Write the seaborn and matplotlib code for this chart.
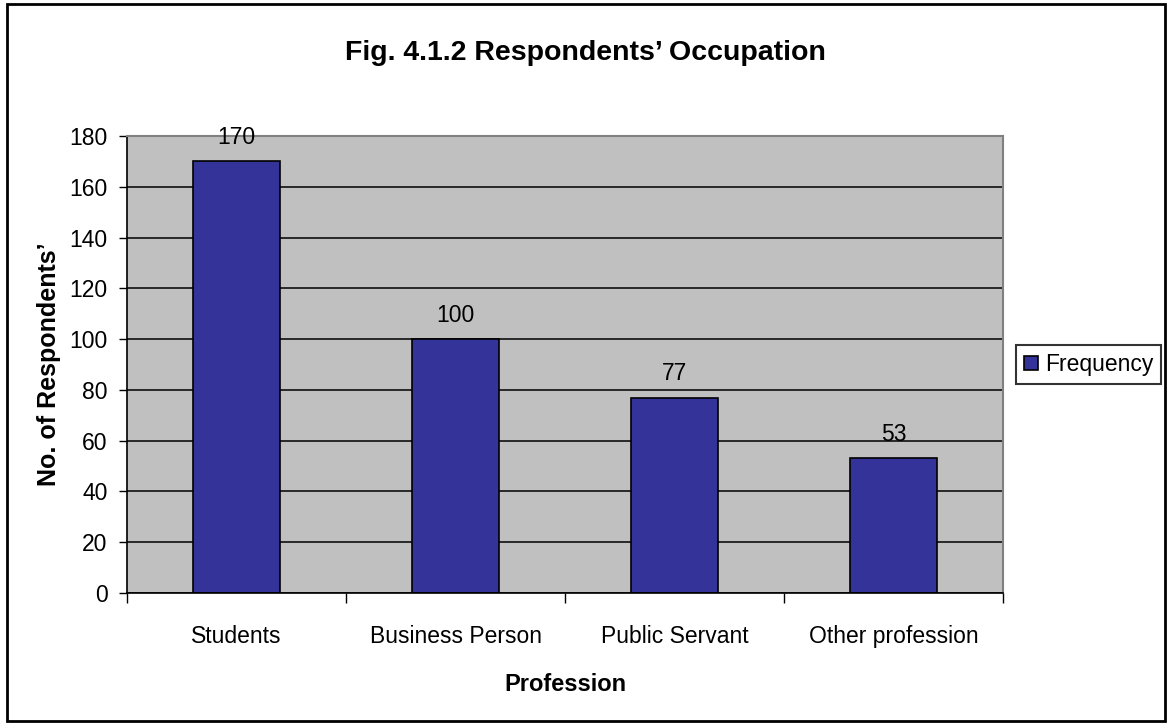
import numpy as np
import pandas as pd
import matplotlib
matplotlib.use("Agg")
import matplotlib.pyplot as plt
from matplotlib.patches import Rectangle
import seaborn as sns

# data
professions = ["Students", "Business Person", "Public Servant", "Other profession"]
frequency = [170, 100, 77, 53]
y_ticks = [0, 20, 40, 60, 80, 100, 120, 140, 160, 180]

df = pd.DataFrame({"Profession": professions, "Frequency": frequency})

sns.set_theme(style="white")
plt.rcParams["font.family"] = ["Liberation Sans", "DejaVu Sans"]
plt.rcParams["text.color"] = "black"
plt.rcParams["axes.labelcolor"] = "black"
plt.rcParams["xtick.color"] = "black"
plt.rcParams["ytick.color"] = "black"

fig = plt.figure(figsize=(11.71, 7.27), dpi=100)
ax = fig.add_axes([0.1085, 0.1843, 0.748, 0.6286])
ax.set_facecolor("#C0C0C0")

# gridlines behind the bars
ax.set_axisbelow(True)
ax.yaxis.grid(True, color="black", linewidth=1.1)
ax.xaxis.grid(False)

sns.barplot(data=df, x="Profession", y="Frequency", color="#333399",
            width=0.4, edgecolor="black", linewidth=1.2, saturation=1,
            label="Frequency", ax=ax)

ax.bar_label(ax.containers[0], labels=[str(v) for v in frequency],
             padding=9, fontsize=16.5, color="black")

ax.set_ylim(0, 180)
ax.set_xlim(-0.5, len(professions) - 0.5)
ax.set_yticks(y_ticks)
ax.set_yticklabels([str(t) for t in y_ticks], fontsize=16.5)
ax.tick_params(axis="y", length=6, width=1, color="black", pad=8, left=True)

# tick marks between categories, labels at centres (Excel style)
ax.set_xticks(np.arange(-0.5, len(professions), 1.0))
ax.set_xticklabels([])
ax.tick_params(axis="x", which="major", length=7, width=1, color="black", bottom=True)
ax.set_xticks(np.arange(len(professions)), minor=True)
ax.set_xticklabels(professions, minor=True, fontsize=16.5)
ax.tick_params(axis="x", which="minor", length=0, pad=23)

ax.set_xlabel("Profession", fontsize=17, fontweight="bold", labelpad=18)
ax.set_ylabel("No. of Respondents\u2019", fontsize=18, fontweight="bold", labelpad=6)

for side in ["left", "bottom"]:
    ax.spines[side].set_color("black")
    ax.spines[side].set_linewidth(1.2)
for side in ["top", "right"]:
    ax.spines[side].set_color("#808080")
    ax.spines[side].set_linewidth(1.5)

fig.suptitle("Fig. 4.1.2 Respondents\u2019 Occupation", x=0.5, y=0.945,
             fontsize=20.5, fontweight="bold")

leg = ax.legend(loc="center left", bbox_to_anchor=(1.015, 0.5), fontsize=16.5,
                frameon=True, fancybox=False, edgecolor="black",
                handlelength=0.6, handleheight=0.6, handletextpad=0.3,
                borderpad=0.35, borderaxespad=0)
leg.get_frame().set_linewidth(1.5)

# outer chart border
fig.patches.append(Rectangle((0.006, 0.008), 0.989, 0.986, transform=fig.transFigure,
                             fill=False, edgecolor="black", linewidth=2))

fig.savefig("out.png", dpi=100)
